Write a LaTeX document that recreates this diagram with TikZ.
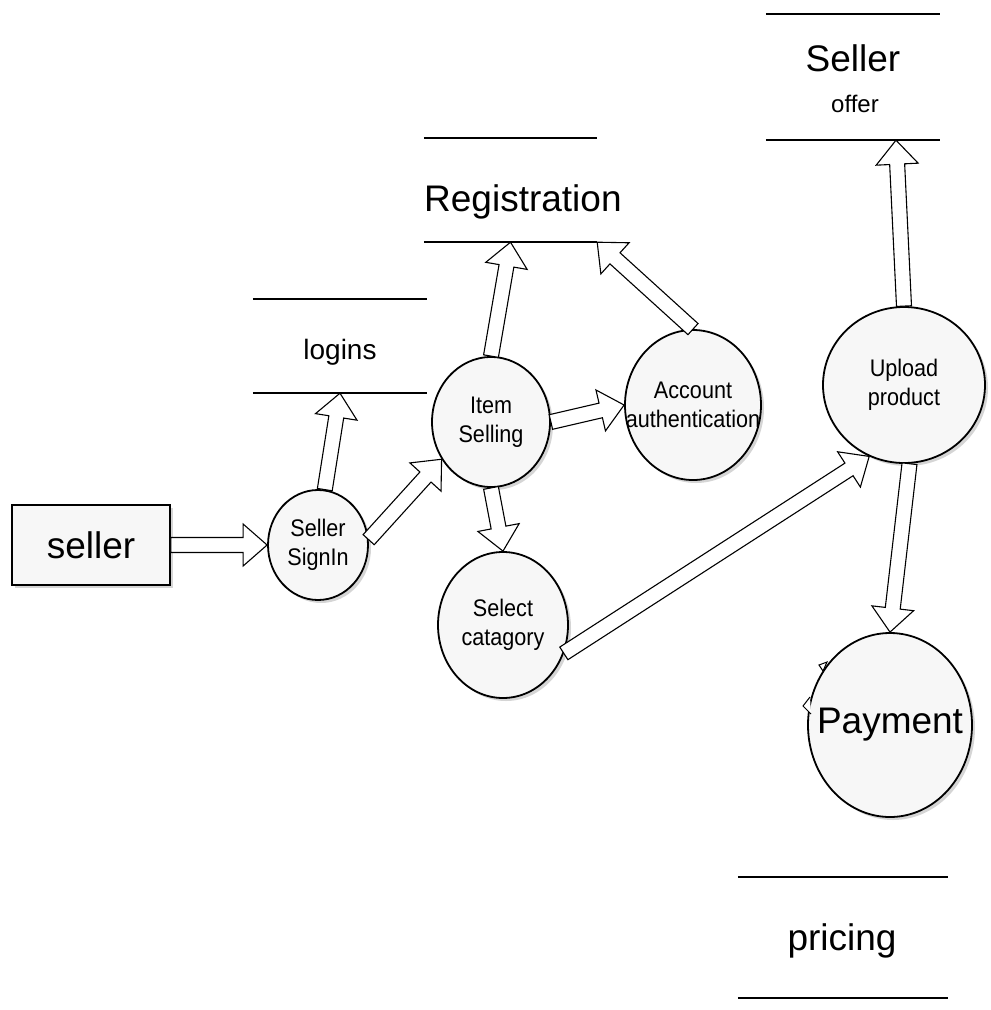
\documentclass[tikz,border=0pt]{standalone}
\usepackage{fontspec}
\usepackage{graphicx}
\setmainfont{Liberation Sans}
\usetikzlibrary{calc,shapes.geometric,shadows}

% hollow block arrow from #1 to #2 (tip at #2)
\newcommand\fatarrow[2]{%
  \coordinate (fa-s) at (#1);
  \coordinate (fa-t) at (#2);
  \coordinate (fa-b) at ($(fa-t)!24pt!(fa-s)$);
  \draw[fatbody]
    ($(fa-s)!7.5pt!90:(fa-t)$) -- ($(fa-b)!7.5pt!90:(fa-t)$) --
    ($(fa-b)!21pt!90:(fa-t)$) -- (fa-t) --
    ($(fa-b)!21pt!-90:(fa-t)$) -- ($(fa-b)!7.5pt!-90:(fa-t)$) --
    ($(fa-s)!7.5pt!-90:(fa-t)$) -- cycle;
}
% one centred, slightly narrowed line of process text that does not widen the shape
\newcommand\pline[1]{\makebox[0pt]{\scalebox{0.9}[1]{#1}}}

\tikzset{
  softshadow/.style={drop shadow={shadow xshift=3pt, shadow yshift=-3pt,
      fill=black!30, opacity=0.55}},
  proc/.style={ellipse, draw=black, line width=1.8pt, fill=black!3,
      inner sep=0pt, align=center, softshadow,
      font=\fontsize{24}{29}\selectfont},
  entity/.style={rectangle, draw=black, line width=1.8pt, fill=black!3,
      inner sep=0pt, softshadow, font=\fontsize{37}{44}\selectfont},
  store/.style={rectangle, draw=none, inner sep=0pt},
  storeline/.style={line width=1.8pt},
  bigtext/.style={inner sep=0pt, font=\fontsize{37}{44}\selectfont},
  midtext/.style={inner sep=0pt, font=\fontsize{28}{34}\selectfont},
  smalltext/.style={inner sep=0pt, font=\fontsize{24}{29}\selectfont},
  fatbody/.style={draw=black, line width=1.1pt, fill=white, line join=miter},
  tick/.style={draw=black, line width=1pt, fill=white},
}

\begin{document}
\begin{tikzpicture}[x=1pt, y=-1pt]
\useasboundingbox (0,0) rectangle (991,1010);

% external entity
\node[entity, minimum width=158pt, minimum height=80pt] (seller) at (91,545) {seller};

% processes
\node[proc, minimum width=100pt, minimum height=110pt] (ss) at (318,545)
  {\pline{Seller}\\\pline{SignIn}};
\node[proc, minimum width=118pt, minimum height=130pt] (item) at (491,422)
  {\pline{Item}\\\pline{Selling}};
\node[proc, minimum width=136pt, minimum height=150pt] (acc) at (693,405)
  {\pline{Account}\\\pline{authentication}};
\node[proc, minimum width=130pt, minimum height=146pt] (sel) at (503,625)
  {\pline{Select}\\\pline{catagory}};
\node[proc, minimum width=162pt, minimum height=156pt] (up) at (904,385)
  {\pline{Upload}\\\pline{product}};
\node[proc, minimum width=164pt, minimum height=184pt,
      font=\fontsize{37}{44}\selectfont] (pay) at (890,725)
  {\makebox[0pt]{Payment}};

% data stores
\node[store, minimum width=174pt, minimum height=126pt] (off) at (853,77) {};
\node[bigtext, anchor=base] (offa) at (853,71) {Seller};
\node[smalltext, anchor=base] (offb) at (855,112) {offer};

\node[store, minimum width=173pt, minimum height=104pt] (reg) at (510.5,190) {};
\node[bigtext, anchor=base west] (regt) at (424,211) {Registration};

\node[store, minimum width=174pt, minimum height=94pt] (log) at (340,346) {};
\node[midtext, anchor=base] (logt) at (340,359) {logins};

\node[store, minimum width=210pt, minimum height=121pt] (pri) at (843,937.5) {};
\node[bigtext, anchor=base] (prit) at (842,950) {pricing};

\foreach \s in {off,reg,log,pri}{
  \draw[storeline] (\s.north west) -- (\s.north east);
  \draw[storeline] (\s.south west) -- (\s.south east);
}

% data flows
\fatarrow{seller.east}{ss.west}
\fatarrow{ss.83}{log.south}
\fatarrow{ss.6}{item.217}
\fatarrow{item.north}{reg.south}
\fatarrow{item.east}{acc.west}
\fatarrow{acc.north}{reg.south east}
\fatarrow{item.south}{sel.north}
\fatarrow{sel.-25}{up.244}
\fatarrow{up.north}{[xshift=43pt]off.south}
\fatarrow{up.-86}{pay.north}

% small marks on the payment outline
\draw[tick] (819,665) -- (827,662) -- (823,671) -- cycle;
\draw[tick] (810,697) -- (803,706) -- (811,714);
\end{tikzpicture}
\end{document}
